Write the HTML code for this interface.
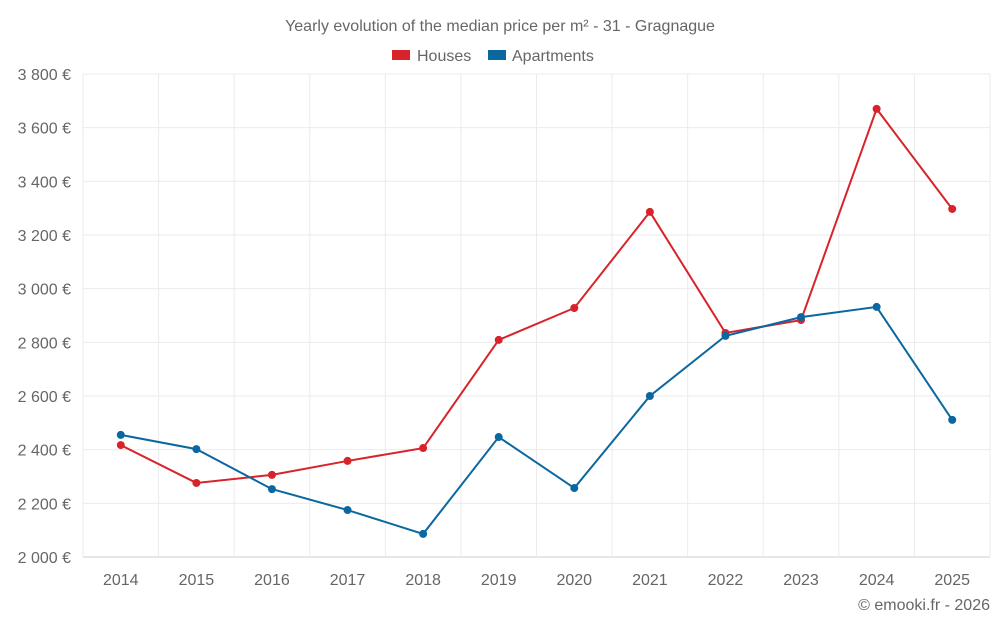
<!DOCTYPE html>
<html><head><meta charset="utf-8"><style>
body{margin:0;background:#fff;font-family:"Liberation Sans",sans-serif}
svg text{font-family:"Liberation Sans",sans-serif;fill:#666}
</style></head><body>
<svg id="c" width="1000" height="625">
<text x="500" y="31" text-anchor="middle" font-size="16">Yearly evolution of the median price per m² - 31 - Gragnague</text>
<g>
<rect x="392" y="50" width="18" height="10" fill="#d7242a"/>
<text x="417" y="61" font-size="16">Houses</text>
<rect x="488" y="50" width="18" height="10" fill="#0a67a0"/>
<text x="512" y="61" font-size="16">Apartments</text>
</g>
<g id="grid"></g><g id="marks"></g>
<text x="990" y="610" text-anchor="end" font-size="16">© emooki.fr - 2026</text>
</svg>
<script>
const years=[2014,2015,2016,2017,2018,2019,2020,2021,2022,2023,2024,2025];
const houses=[2417,2276,2306,2358,2406,2809,2928,3286,2835,2883,3670,3297];
const apartments=[2455,2402,2253,2175,2086,2447,2257,2600,2824,2894,2932,2511];
const yTicks=[2000,2200,2400,2600,2800,3000,3200,3400,3600,3800];
const NS="http://www.w3.org/2000/svg";
const L=83,R=990,T=74,B=557;
const step=(R-L)/years.length;
const x=i=>L+step*(i+0.5);
const y=v=>B-(v-2000)/(3800-2000)*(B-T);
function mk(tag,attrs,parent){const e=document.createElementNS(NS,tag);for(const k in attrs)e.setAttribute(k,attrs[k]);parent.appendChild(e);return e;}
const g=document.getElementById('grid'),m=document.getElementById('marks');
yTicks.forEach(t=>{
 const ln=mk('line',{x1:L,x2:R,y1:y(t),y2:y(t),stroke:t===2000?'#ccc':'#ebebeb'},g);
 
 
 const tx=mk('text',{x:71,y:y(t)+6,'text-anchor':'end','font-size':16},g);
 tx.textContent=String(t).replace(/(\d)(\d{3})$/,'$1 $2')+' €';
 
 
});
for(let i=0;i<=years.length;i++){
 const ln=mk('line',{x1:L+step*i,x2:L+step*i,y1:T,y2:B,stroke:'#ebebeb'},g);
 
 
}
years.forEach((yr,i)=>{
 const tx=mk('text',{x:x(i),y:585,'text-anchor':'middle','font-size':16},g);
 tx.textContent=yr;
 
 
});
function series(vals,color,name){
 const p=mk('polyline',{points:vals.map((v,i)=>x(i)+','+y(v)).join(' '),fill:'none',stroke:color,'stroke-width':2},m);
 
 
 vals.forEach((v,i)=>{
  const c=mk('circle',{cx:x(i),cy:y(v),r:4,fill:color},m);
  
  
 });
}
series(houses,'#d7242a','houses');
series(apartments,'#0a67a0','apartments');
</script>
</body></html>
